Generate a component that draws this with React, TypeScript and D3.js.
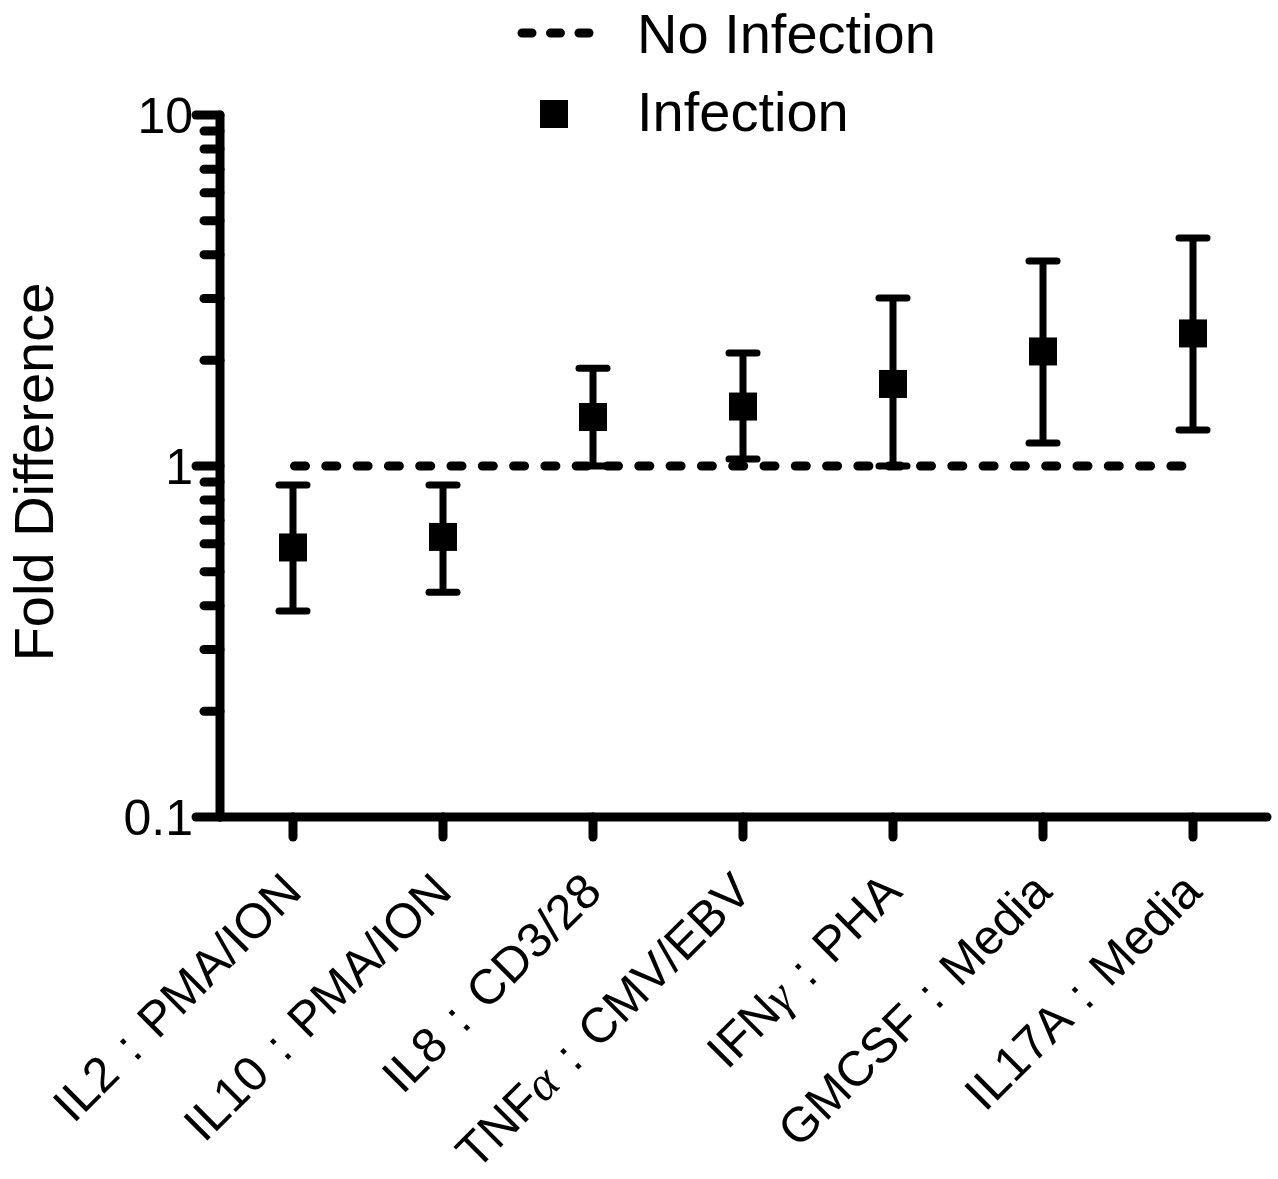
import React from "react";
import * as d3 from "d3";

const categories = [
  "IL2 : PMA/ION",
  "IL10 : PMA/ION",
  "IL8 : CD3/28",
  "TNFα : CMV/EBV",
  "IFNγ : PHA",
  "GMCSF : Media",
  "IL17A : Media",
];
const means = [0.586, 0.628, 1.379, 1.477, 1.713, 2.12, 2.386];
const upperErr = [0.883, 0.883, 1.9, 2.1, 3.01, 3.84, 4.46];
const lowerErr = [0.386, 0.437, 1.0, 1.047, 1.0, 1.163, 1.266];
const noInfectionLevel = 1;
const yMajorTicks = [0.1, 1, 10];
const yMajorLabels = ["0.1", "1", "10"];
const legendLabels = ["No Infection", "Infection"];
const yAxisTitle = "Fold Difference";

const FONT = "'Liberation Sans', Arial, Helvetica, sans-serif";

function renderLabel(s: string) {
  const parts = s.split(/([αγ])/);
  return parts.map((p, i) =>
    p === "α" || p === "γ" ? (
      <tspan key={i} fontFamily="'Liberation Serif', 'DejaVu Serif', serif" fontStyle="italic">
        {p}
      </tspan>
    ) : (
      <tspan key={i}>{p}</tspan>
    )
  );
}

export default function App() {
  const W = 1278;
  const H = 1179;
  const y = d3.scaleLog().domain([0.1, 10]).range([817, 115]);
  const x = d3.scalePoint<string>().domain(categories).range([293, 1193]);
  const axisX = 220;
  const axisY = 817;

  const minor: number[] = [];
  [0.1, 1].forEach((d) => {
    for (let k = 2; k <= 9; k++) minor.push(k * d);
  });

  const sw = 9;
  const ebw = 7;
  const capHalf = 14;
  const sq = 28;

  return (
    <svg
      width={W}
      height={H}
      style={{ position: "absolute", left: 0, top: 0, background: "#fff" }}
      fontFamily={FONT}
    >
      <rect x={0} y={0} width={W} height={H} fill="#fff" />
      {/* Legend */}
      <line
        x1={522}
        x2={589}
        y1={33}
        y2={33}
        stroke="#000"
        strokeWidth={9}
        strokeLinecap="round"
        strokeDasharray="10 18.5"
      />
      <text x={637} y={53} fontSize={56}>
        {legendLabels[0]}
      </text>
      <rect x={554 - sq / 2} y={114 - sq / 2} width={sq} height={sq} fill="#000" />
      <text x={637} y={131} fontSize={56}>
        {legendLabels[1]}
      </text>

      {/* y axis title */}
      <text
        transform={`translate(53, ${(y(10) + y(0.1)) / 2 + 6}) rotate(-90)`}
        textAnchor="middle"
        fontSize={56}
      >
        {yAxisTitle}
      </text>

      {/* No infection dashed line */}
      <line
        x1={(x(categories[0]) as number) + 1.5}
        x2={x(categories[categories.length - 1]) as number}
        y1={y(noInfectionLevel)}
        y2={y(noInfectionLevel)}
        stroke="#000"
        strokeWidth={9}
        strokeLinecap="round"
        strokeDasharray="11 20.3"
      />

      {/* error bars and points */}
      {categories.map((c, i) => {
        const cx = x(c) as number;
        return (
          <g key={c}>
            <line x1={cx} x2={cx} y1={y(upperErr[i])} y2={y(lowerErr[i])} stroke="#000" strokeWidth={ebw} />
            <line
              x1={cx - capHalf}
              x2={cx + capHalf}
              y1={y(upperErr[i])}
              y2={y(upperErr[i])}
              stroke="#000"
              strokeWidth={ebw}
              strokeLinecap="round"
            />
            <line
              x1={cx - capHalf}
              x2={cx + capHalf}
              y1={y(lowerErr[i])}
              y2={y(lowerErr[i])}
              stroke="#000"
              strokeWidth={ebw}
              strokeLinecap="round"
            />
            <rect x={cx - sq / 2} y={y(means[i]) - sq / 2} width={sq} height={sq} fill="#000" />
          </g>
        );
      })}

      {/* y axis */}
      <line x1={axisX} x2={axisX} y1={y(10)} y2={axisY} stroke="#000" strokeWidth={sw} strokeLinecap="round" />
      {yMajorTicks.map((t, i) => (
        <g key={"M" + t}>
          <line x1={axisX - 24} x2={axisX} y1={y(t)} y2={y(t)} stroke="#000" strokeWidth={sw} strokeLinecap="round" />
          <text x={193} y={y(t) + 18} textAnchor="end" fontSize={50}>
            {yMajorLabels[i]}
          </text>
        </g>
      ))}
      {minor.map((t) => (
        <line
          key={"m" + t}
          x1={axisX - 16}
          x2={axisX}
          y1={y(t)}
          y2={y(t)}
          stroke="#000"
          strokeWidth={sw}
          strokeLinecap="round"
        />
      ))}

      {/* x axis */}
      <line x1={axisX} x2={1267} y1={axisY} y2={axisY} stroke="#000" strokeWidth={sw} strokeLinecap="round" />
      {categories.map((c) => {
        const cx = x(c) as number;
        return (
          <g key={"t" + c}>
            <line x1={cx} x2={cx} y1={axisY} y2={axisY + 20} stroke="#000" strokeWidth={sw} strokeLinecap="round" />
            <text
              transform={`translate(${cx + 11}, 894) rotate(-45)`}
              textAnchor="end"
              fontSize={49}
              wordSpacing={5}
            >
              {renderLabel(c)}
            </text>
          </g>
        );
      })}
    </svg>
  );
}
